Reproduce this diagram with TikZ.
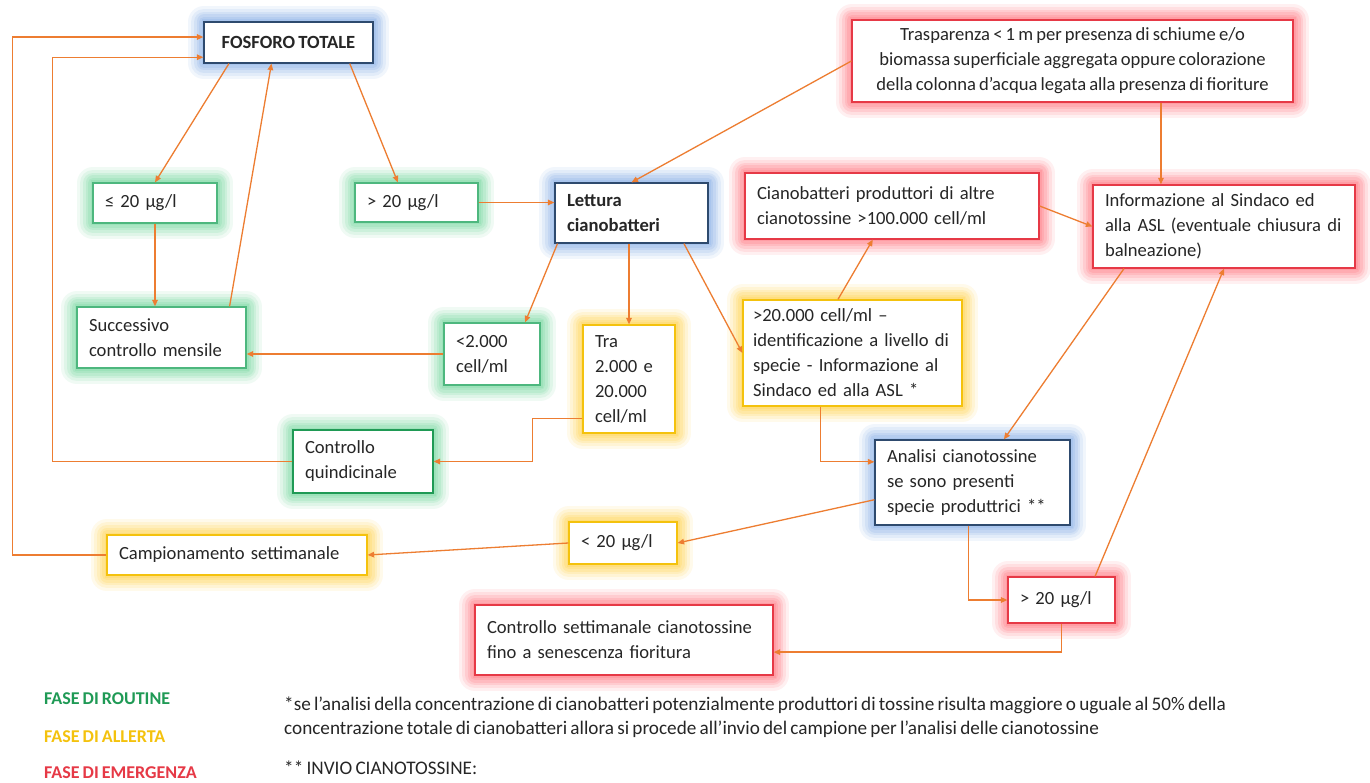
\documentclass[tikz,border=0pt]{standalone}
\usepackage{fontspec}
\setmainfont{Carlito}[WordSpace=0.75]
\usetikzlibrary{arrows.meta,calc}

\definecolor{linea}{HTML}{ED7D31}
\definecolor{verdeglow}{HTML}{6FD69A}
\definecolor{verdebordo}{HTML}{4DB77E}
\definecolor{verdescuro}{HTML}{1F9A55}
\definecolor{gialloglow}{HTML}{FFCF3F}
\definecolor{giallobordo}{HTML}{F4C20D}
\definecolor{rossoglow}{HTML}{FF6F78}
\definecolor{rossobordo}{HTML}{E63946}
\definecolor{bluglow}{HTML}{7FA9E6}
\definecolor{blubordo}{HTML}{2E4A6E}
\definecolor{testo}{HTML}{262626}

\begin{document}
\begin{tikzpicture}[x=1pt, y=-1pt,
    glow/.style={preaction={draw=#1, line width=32pt, opacity=.1, line join=round},
                 preaction={draw=#1, line width=26pt, opacity=.13, line join=round},
                 preaction={draw=#1, line width=20pt, opacity=.16, line join=round},
                 preaction={draw=#1, line width=15pt, opacity=.18, line join=round},
                 preaction={draw=#1, line width=10pt, opacity=.2, line join=round},
                 preaction={draw=#1, line width=5pt, opacity=.22}},
    box/.style={draw, fill=white, line width=1.2pt, inner xsep=12pt, inner ysep=4pt,
                align=left, text=testo, font=\fontsize{18.6}{25}\selectfont},
    routine/.style={box, glow=verdeglow, draw=verdebordo},
    allerta/.style={box, glow=gialloglow, draw=giallobordo},
    emergenza/.style={box, glow=rossoglow, draw=rossobordo},
    analisi/.style={box, glow=bluglow, draw=blubordo},
    arr/.style={draw=linea, line width=1.3pt, -{Triangle[length=6.5pt, width=5.5pt]}},
    legenda/.style={anchor=west, inner sep=0pt, font=\fontsize{18}{25}\selectfont\bfseries},
    nota/.style={anchor=west, inner sep=0pt, text=testo, font=\fontsize{19.2}{25}\selectfont}]
  \useasboundingbox[fill=white] (0,0) rectangle (1370,783);

  % Fosforo totale
  \node (fosforo) [analisi, align=center, minimum width=169pt, minimum height=41pt, font=\fontsize{18.6}{25}\selectfont\bfseries] at (288.5,42.5) {FOSFORO TOTALE};
  \node (basso) [routine, minimum width=124pt, minimum height=40pt, text width=100pt] at (155,203) {≤ 20 µg/l};
  \node (alto) [routine, minimum width=123pt, minimum height=39pt, text width=99pt] at (416.5,202.5) {> 20 µg/l};
  \node (mensile) [routine, minimum width=169pt, minimum height=61pt, text width=145pt] at (161.5,337.5) {Successivo\\controllo mensile};

  % Lettura cianobatteri
  \node (lettura) [analisi, minimum width=153pt, minimum height=60pt, text width=129pt, font=\fontsize{18.6}{25}\selectfont\bfseries] at (631.5,213) {Lettura\\cianobatteri};
  \node (pochi) [routine, minimum width=96pt, minimum height=62pt, text width=72pt] at (492,354) {<2.000\\cell/ml};
  \node (tra) [allerta, minimum width=92pt, minimum height=108pt, text width=68pt] at (629,379) {Tra\\2.000 e\\20.000\\cell/ml};
  \node (molti) [allerta, minimum width=219pt, minimum height=106pt, text width=199pt, inner xsep=10pt] at (852.5,353) {>20.000 cell/ml –\\identificazione a livello di\\specie - Informazione al\\Sindaco ed alla ASL *};
  \node (quindici) [box, glow=verdeglow, draw=verdescuro, minimum width=140pt, minimum height=63pt, text width=116pt] at (363,461.5) {Controllo\\quindicinale};

  % Emergenza
  \node (trasp) [emergenza, align=center, minimum width=441pt, minimum height=82pt] at (1072.5,61) {Trasparenza < 1 m per presenza di schiume e/o\\biomassa superficiale aggregata oppure colorazione\\della colonna d’acqua legata alla presenza di fioriture};
  \node (altre) [emergenza, minimum width=294pt, minimum height=66pt, text width=270pt] at (892,206) {Cianobatteri produttori di altre\\cianotossine >100.000 cell/ml};
  \node (info) [emergenza, minimum width=262pt, minimum height=83pt, text width=238pt] at (1224,226.5) {Informazione al Sindaco ed\\alla ASL (eventuale chiusura di\\balneazione)};

  % Cianotossine
  \node (tossine) [analisi, minimum width=195pt, minimum height=85pt, text width=171pt] at (972.5,482.5) {Analisi cianotossine\\se sono presenti\\specie produttrici **};
  \node (tbasse) [allerta, minimum width=108pt, minimum height=42pt, text width=84pt] at (623,543) {< 20 µg/l};
  \node (talte) [emergenza, minimum width=107pt, minimum height=46pt, text width=83pt] at (1061.5,600) {> 20 µg/l};
  \node (campione) [allerta, minimum width=260pt, minimum height=40pt, text width=236pt] at (237,555) {Campionamento settimanale};
  \node (settimana) [emergenza, minimum width=298pt, minimum height=70pt, text width=274pt] at (624,640) {Controllo settimanale cianotossine\\fino a senescenza fioritura};

  % Collegamenti
  \draw[arr] ($(fosforo.south west)!.15!(fosforo.south east)$) -- (basso.north);
  \draw[arr] ($(mensile.north west)!.9!(mensile.north east)$) -- ($(fosforo.south west)!.4!(fosforo.south east)$);
  \draw[arr] (basso.south) -- (basso.south |- mensile.north);
  \draw[arr] ($(fosforo.south west)!.86!(fosforo.south east)$) -- ($(alto.north west)!.35!(alto.north east)$);
  \draw[arr] (alto.east) -- (alto.east -| lettura.west);
  \draw[arr] (trasp.west) -- (lettura.north);
  \draw[arr] ($(trasp.south west)!.7!(trasp.south east)$) coordinate (t) -- (t |- info.north);
  \draw[arr] (altre.east) -- (info.west);
  \draw[arr] ($(lettura.south west)!.02!(lettura.south east)$) -- ($(pochi.north west)!.84!(pochi.north east)$);
  \draw[arr] (tra.north |- lettura.south) -- (tra.north);
  \draw[arr] ($(lettura.south west)!.84!(lettura.south east)$) -- (molti.west);
  \draw[arr] (pochi.west) -- (pochi.west -| mensile.east);
  \draw[arr] ($(tra.north west)!.86!(tra.south west)$) -- ++(-50,0) |- (quindici.east);
  \draw[arr] (quindici.west) -- ++(-240,0) |- ($(fosforo.north west)!.85!(fosforo.south west)$);
  \draw[arr] (campione.west) -- ++(-94,0) |- ($(fosforo.north west)!.37!(fosforo.south west)$);
  \draw[arr] (tbasse.west) -- (campione.east);
  \draw[arr] ($(molti.north west)!.434!(molti.north east)$) -- ($(altre.south west)!.435!(altre.south east)$);
  \draw[arr] ($(molti.south west)!.356!(molti.south east)$) |- ($(tossine.north west)!.26!(tossine.south west)$);
  \draw[arr] ($(info.south west)!.12!(info.south east)$) -- ($(tossine.north west)!.66!(tossine.north east)$);
  \draw[arr] ($(talte.north west)!.81!(talte.north east)$) -- (info.south);
  \draw[arr] ($(tossine.south west)!.48!(tossine.south east)$) |- (talte.west);
  \draw[arr] (talte.south) |- ($(settimana.north east)!.67!(settimana.south east)$);
  \draw[arr] ($(tossine.north west)!.7!(tossine.south west)$) -- (tbasse.east);

  % Legenda
  \node (routine) [legenda, text=verdescuro] at (44,699) {FASE DI ROUTINE};
  \node (allerta) [legenda, text=giallobordo] at (44,737) {FASE DI ALLERTA};
  \node (emergenza) [legenda, text=rossobordo] at (44,773) {FASE DI EMERGENZA};
  \node (nota1) [nota] at (284,705) {*se l’analisi della concentrazione di cianobatteri potenzialmente produttori di tossine risulta maggiore o uguale al 50\% della};
  \node (nota2) [nota] at (284,729) {concentrazione totale di cianobatteri allora si procede all’invio del campione per l’analisi delle cianotossine};
  \node (nota3) [nota] at (284,768) {** INVIO CIANOTOSSINE:};
\end{tikzpicture}
\end{document}
